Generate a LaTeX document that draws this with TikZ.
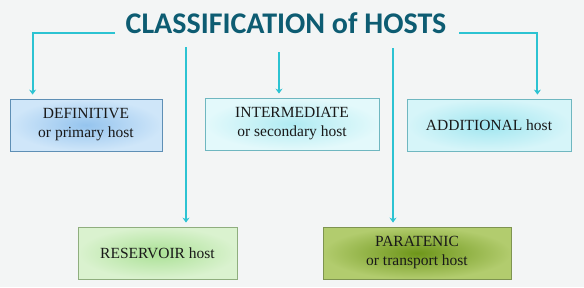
\documentclass[tikz,border=0pt]{standalone}
\usepackage{fontspec}
\setmainfont{Liberation Serif}
\newfontfamily\titlefont{Carlito}
\usepackage{xcolor}
\usepackage{tikz}
\usetikzlibrary{shapes,arrows.meta,positioning,calc}
\definecolor{titleteal}{HTML}{0D5C72}
\definecolor{linkcyan}{HTML}{2CC3D2}
\definecolor{paper}{HTML}{F3F5F5}
\definecolor{blueedge}{HTML}{5E8FB5}
\definecolor{cyanedge}{HTML}{6FB7C0}
\definecolor{greenedge}{HTML}{8FAE7E}
\definecolor{oliveedge}{HTML}{7E9450}
\definecolor{defin}{HTML}{95C4EE}
\definecolor{defout}{HTML}{CFE6F9}
\definecolor{interin}{HTML}{B0EBF2}
\definecolor{interout}{HTML}{E3F9FB}
\definecolor{addin}{HTML}{A0E6F0}
\definecolor{addout}{HTML}{D6F5F9}
\definecolor{resin}{HTML}{ABE196}
\definecolor{resout}{HTML}{DAF2CF}
\definecolor{parain}{HTML}{6E961A}
\definecolor{paraout}{HTML}{B2CC6E}

\begin{document}
\begin{tikzpicture}[x=1pt, y=-1pt,
  hostbox/.style={rectangle, minimum height=52pt, align=center, inner sep=2pt,
    font=\fontsize{15.5}{19}\selectfont, text=black!90, line width=0.8pt},
  msg/.style={-{Stealth[length=5pt,width=7pt]}, linkcyan, line width=2pt, shorten >=4pt}
]
\fill[paper] (0,0) rectangle (584,287);
\useasboundingbox (0,0) rectangle (584,287);

\node[anchor=base, inner sep=0pt, text=titleteal, font=\titlefont\bfseries\fontsize{30}{32}\selectfont] (title) at (286,33) {CLASSIFICATION of HOSTS};

\node[hostbox, draw=blueedge, minimum width=152pt, inner color=defin, outer color=defout] (def) at (86,125) {DEFINITIVE\\or primary host};
\node[hostbox, draw=cyanedge, minimum width=174pt, inner color=interin, outer color=interout] (inter) at (292,124) {INTERMEDIATE\\or secondary host};
\node[hostbox, draw=cyanedge, minimum width=164pt, inner color=addin, outer color=addout] (add) at (489,125) {ADDITIONAL host};
\node[hostbox, draw=greenedge, minimum width=159pt, inner color=resin, outer color=resout] (res) at (157.5,253) {RESERVOIR host};
\node[hostbox, draw=oliveedge, minimum width=188pt, inner color=parain, outer color=paraout] (para) at (417,253) {PARATENIC\\or transport host};

\coordinate (lstart) at (115,33);
\coordinate (rstart) at (459,33);
\coordinate (mstart) at (279,52);
\coordinate (resstart) at (186,47);
\coordinate (parastart) at (393,48);

\draw[msg] (lstart) -| ([xshift=23pt]def.north west);
\draw[msg] (rstart) -| ([xshift=-34pt]add.north east);
\draw[msg] (mstart) -- ([xshift=-13pt]inter.north);
\draw[msg] (resstart) -- ([xshift=28.5pt]res.north);
\draw[msg] (parastart) -- ([xshift=-24pt]para.north);
\end{tikzpicture}
\end{document}
